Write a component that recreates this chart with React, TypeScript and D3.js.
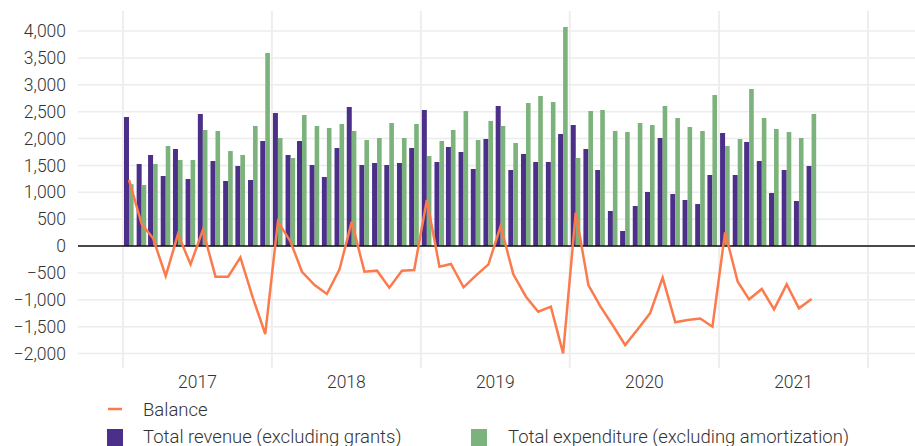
import React from "react";
import * as d3 from "d3";

const startYear = 2017;
const startMonth = 0;

const revenue = [
  2400, 1526, 1693, 1302, 1805, 1246, 2456, 1581, 1209, 1488, 1228, 1953,
  2474, 1693, 1953, 1507, 1284, 1823, 2586, 1507, 1544, 1507, 1544, 1823,
  2530, 1563, 1842, 1749, 1433, 1991, 2605, 1414, 1712, 1563, 1563, 2084,
  2251, 1805, 1414, 651, 279, 744, 1005, 2009, 967, 856, 781, 1321,
  2102, 1321, 1935, 1581, 986, 1414, 837, 1488,
];

const expenditure = [
  1150, 1135, 1526, 1860, 1600, 1600, 2158, 2140, 1767, 1693, 2233, 3591,
  2009, 1637, 2437, 2233, 2195, 2270, 2140, 1972, 2009, 2288, 2009, 2270,
  1674, 1953, 2158, 2512, 1972, 2326, 2233, 1916, 2660, 2791, 2679, 4074,
  1637, 2512, 2530, 2140, 2121, 2288, 2251, 2605, 2381, 2214, 2140, 2809,
  1860, 1991, 2921, 2381, 2177, 2121, 2009, 2456,
];

const balance = [
  1230, 409, 143, -558, 217, -341, 298, -570, -570, -211, -974, -1637,
  453, 80, -480, -726, -893, -434, 453, -477, -459, -775, -459, -447,
  856, -384, -335, -769, -552, -341, 372, -527, -943, -1222, -1129, -1997,
  620, -726, -1120, -1480, -1842, -1550, -1253, -589, -1420, -1377, -1350, -1501,
  254, -664, -992, -800, -1178, -713, -1160, -986,
];

const yTicks = [-2000, -1500, -1000, -500, 0, 500, 1000, 1500, 2000, 2500, 3000, 3500, 4000];
const yearLabels = ["2017", "2018", "2019", "2020", "2021"];

const seriesNames = {
  balance: "Balance",
  revenue: "Total revenue (excluding grants)",
  expenditure: "Total expenditure (excluding amortization)",
};

const colors = {
  revenue: "#4b2f88",
  expenditure: "#7cb27b",
  balance: "#fb7b4d",
};

const W = 915;
const H = 446;
const plotLeft = 78;
const plotRight = 915;
const plotTop = 11;
const plotBottom = 368;
const FONT = "Roboto, 'Noto Sans', sans-serif";

export default function App() {
  const dates = revenue.map((_, i) => new Date(startYear, startMonth + i, 1));
  const x = d3
    .scaleTime()
    .domain([new Date(2017, 0, 1), new Date(2022, 0, 1)])
    .range([123, 868]);
  const y = d3.scaleLinear().domain([0, 4000]).range([246, 31]);

  const yearBounds = d3.range(2017, 2023).map((yr) => new Date(yr, 0, 1));

  const line = d3
    .line<number>()
    .x((_, i) => x(dates[i]) + 6)
    .y((d) => y(d));

  const fmt = d3.format(",");

  return (
    <svg
      width={W}
      height={H}
      style={{ position: "absolute", left: 0, top: 0, fontFamily: FONT }}
    >
      <rect x={0} y={0} width={W} height={H} fill="#fff" />
      {yTicks.map((t) => (
        <line
          key={"h" + t}
          x1={plotLeft}
          x2={plotRight}
          y1={y(t)}
          y2={y(t)}
          stroke="#ececec"
          strokeWidth={1.5}
        />
      ))}
      {yearBounds.map((d, i) => (
        <line
          key={"v" + i}
          x1={x(d)}
          x2={x(d)}
          y1={plotTop}
          y2={plotBottom}
          stroke="#eeeeee"
          strokeWidth={2}
        />
      ))}
      {yTicks.map((t) => (
        <text
          key={"yl" + t}
          x={66}
          y={y(t)}
          dy="0.35em"
          textAnchor="end"
          fontSize={17.5}
          fontWeight={300}
          fill="#333"
        >
          {fmt(t)}
        </text>
      ))}
      {revenue.map((v, i) => (
        <rect
          key={"r" + i}
          x={x(dates[i]) + 1}
          y={Math.min(y(v), y(0))}
          width={5}
          height={Math.abs(y(v) - y(0))}
          fill={colors.revenue}
        />
      ))}
      {expenditure.map((v, i) => (
        <rect
          key={"e" + i}
          x={x(dates[i]) + 6}
          y={Math.min(y(v), y(0))}
          width={4.6}
          height={Math.abs(y(v) - y(0))}
          fill={colors.expenditure}
        />
      ))}
      <line x1={plotLeft} x2={plotRight} y1={y(0)} y2={y(0)} stroke="#111" strokeWidth={1.3} />
      <path
        d={line(balance) || ""}
        fill="none"
        stroke={colors.balance}
        strokeWidth={2.5}
        strokeLinejoin="miter"
      />
      {yearLabels.map((lab, i) => {
        const a = x(yearBounds[i]);
        const b = x(yearBounds[i + 1]);
        return (
          <text
            key={"x" + lab}
            x={(a + b) / 2}
            y={388}
            textAnchor="middle"
            fontSize={17.5}
            fontWeight={300}
            fill="#333"
          >
            {lab}
          </text>
        );
      })}
      <line x1={108} x2={122} y1={409} y2={409} stroke={colors.balance} strokeWidth={2.5} />
      <text x={143} y={416} fontSize={18.5} fontWeight={300} fill="#333">
        {seriesNames.balance}
      </text>
      <rect x={107} y={429} width={16} height={17} fill={colors.revenue} />
      <text x={143} y={443} fontSize={18.5} fontWeight={300} fill="#333">
        {seriesNames.revenue}
      </text>
      <rect x={471} y={429} width={16} height={17} fill={colors.expenditure} />
      <text x={508} y={443} fontSize={18.5} fontWeight={300} fill="#333">
        {seriesNames.expenditure}
      </text>
    </svg>
  );
}
